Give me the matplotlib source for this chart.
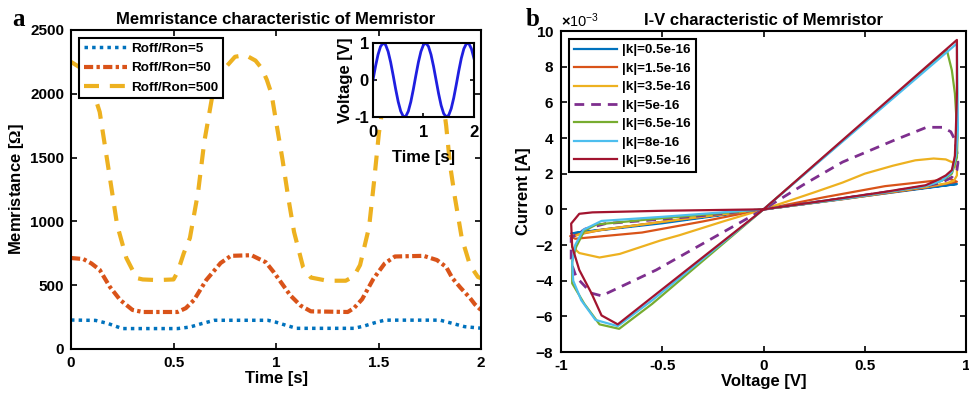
import matplotlib
matplotlib.use('Agg')
from matplotlib import pyplot as plt
from matplotlib.ticker import ScalarFormatter
import numpy as np

plt.rcParams['font.family'] = ['Liberation Sans', 'DejaVu Sans']
plt.rcParams['font.weight'] = 'bold'
plt.rcParams['axes.unicode_minus'] = False
plt.rcParams['mathtext.fontset'] = 'custom'
plt.rcParams['mathtext.rm'] = 'Liberation Sans'
plt.rcParams['mathtext.sf'] = 'Liberation Serif:bold'

# ---- panel a : memristance vs time ----
t_r5 = [0, 0.12, 0.18, 0.25, 0.52, 0.58, 0.64, 0.70, 0.96, 1.0, 1.05, 1.10,
        1.38, 1.43, 1.48, 1.53, 1.80, 1.85, 1.92, 2.0]
m_r5 = [227, 224, 200, 160, 160, 172, 200, 225, 225, 210, 185, 162,
        162, 180, 205, 226, 226, 205, 175, 163]

t_r50 = [0, 0.06, 0.10, 0.14, 0.19, 0.24, 0.30, 0.35, 0.52, 0.56, 0.60, 0.66,
         0.73, 0.78, 0.88, 0.95, 0.99, 1.03, 1.07, 1.12, 1.17, 1.35, 1.38, 1.42,
         1.475, 1.53, 1.58, 1.72, 1.785, 1.83, 1.86, 1.90, 1.946, 1.97, 2.0]
m_r50 = [713, 705, 670, 620, 486, 384, 306, 290, 290, 320, 384, 541,
         674, 730, 735, 680, 600, 510, 420, 340, 295, 290, 320, 390,
         550, 670, 725, 730, 697, 643, 556, 480, 400, 350, 305]

t_r500 = [0, 0.05, 0.10, 0.14, 0.18, 0.225, 0.27, 0.32, 0.35, 0.42, 0.50, 0.52,
          0.55, 0.58, 0.62, 0.65, 0.69, 0.75, 0.80, 0.85, 0.90, 0.93, 0.955,
          0.978, 0.999, 1.032, 1.06, 1.088, 1.132, 1.17, 1.25, 1.34, 1.38,
          1.41, 1.454, 1.478, 1.502, 1.53, 1.58, 1.63, 1.68, 1.73, 1.78, 1.81,
          1.83, 1.849, 1.873, 1.906, 1.946, 1.985, 2.0]
m_r500 = [2250, 2200, 2060, 1857, 1442, 972, 713, 556, 545, 540, 545, 603,
          750, 870, 1230, 1622, 1990, 2200, 2290, 2304, 2260, 2200, 2110,
          2000, 1795, 1481, 1183, 917, 642, 560, 535, 535, 570,
          658, 956, 1309, 1693, 2000, 2200, 2290, 2300, 2260, 2200, 2000,
          1750, 1442, 1183, 870, 658, 564, 555]

# inset : applied voltage
t_v = [0, 0.05, 0.10, 0.15, 0.20, 0.25, 0.30, 0.35, 0.40, 0.45, 0.50, 0.55,
       0.60, 0.65, 0.70, 0.75, 0.80, 0.85, 0.90, 0.95, 1.00, 1.05, 1.10, 1.15,
       1.20, 1.25, 1.30, 1.35, 1.40, 1.45, 1.50, 1.55, 1.60, 1.65, 1.70, 1.75,
       1.80, 1.85, 1.90, 1.95, 2.00]
v_in = [0, 0.368, 0.685, 0.905, 0.998, 0.951, 0.771, 0.482, 0.125, -0.249,
        -0.588, -0.844, -0.982, -0.982, -0.844, -0.588, -0.249, 0.125, 0.482,
        0.771, 0.951, 0.998, 0.905, 0.685, 0.368, 0, -0.368, -0.685, -0.905,
        -0.998, -0.951, -0.771, -0.482, -0.125, 0.249, 0.588, 0.844, 0.982,
        0.982, 0.844, 0.588]

# ---- panel b : I-V loops (current in mA) ----
v_k05 = [0, 0.5, 0.955, 0.5, 0, -0.5, -0.95, -0.5, 0]
i_k05 = [0, 0.74, 1.42, 0.8, 0, -0.72, -1.35, -0.78, 0]

v_k15 = [0, 0.4, 0.8, 0.955, 0.92, 0.6, 0.3, 0, -0.4, -0.8, -0.955, -0.93, -0.6, -0.3, 0]
i_k15 = [0, 0.58, 1.22, 1.55, 1.7, 1.3, 0.68, 0, -0.55, -1.15, -1.5, -1.65, -1.3, -0.68, 0]

v_k35 = [0, 0.4, 0.8, 0.9, 0.94, 0.955, 0.955, 0.94, 0.9, 0.84, 0.75, 0.64, 0.5,
         0.39, 0.25, 0.145, 0, -0.2, -0.415, -0.51, -0.71, -0.81, -0.91, -0.945,
         -0.95, -0.9, -0.8, -0.4, 0]
i_k35 = [0, 0.6, 1.25, 1.45, 1.6, 1.9, 2.3, 2.6, 2.8, 2.85, 2.75, 2.45, 2.0,
         1.5, 0.95, 0.55, 0, -0.68, -1.45, -1.75, -2.5, -2.7, -2.45, -2.1,
         -1.6, -1.35, -1.15, -0.55, 0]

v_k5 = [0, 0.4, 0.8, 0.88, 0.93, 0.955, 0.96, 0.955, 0.945, 0.925, 0.885, 0.805,
        0.64, 0.39, 0.2, 0, -0.53, -0.8, -0.85, -0.925, -0.95, -0.95, -0.88,
        -0.78, -0.5, -0.3, 0]
i_k5 = [0, 0.62, 1.3, 1.5, 1.8, 2.2, 2.6, 3.2, 3.9, 4.35, 4.6, 4.6,
        3.85, 2.65, 1.4, 0, -3.4, -4.85, -4.7, -3.8, -3.0, -1.6, -1.1,
        -0.8, -0.55, -0.35, 0]

v_k65 = [0, 0.4, 0.8, 0.88, 0.93, 0.955, 0.958, 0.945, 0.93, 0.905, 0.6, 0.3, 0,
         -0.55, -0.713, -0.81, -0.885, -0.945, -0.945, -0.925, -0.885, -0.825,
         -0.6, -0.3, 0]
i_k65 = [0, 0.6, 1.3, 1.6, 2.0, 2.9, 4.1, 6.5, 7.8, 8.95, 5.9, 2.95, 0,
         -5.3, -6.7, -6.45, -5.3, -4.15, -2.9, -2.1, -1.2, -0.85,
         -0.6, -0.3, 0]

v_k8 = [0, 0.4, 0.8, 0.88, 0.93, 0.95, 0.96, 0.958, 0.955, 0, -0.55, -0.72, -0.83,
        -0.9, -0.94, -0.945, -0.93, -0.89, -0.8, -0.5, 0]
i_k8 = [0, 0.6, 1.3, 1.6, 2.1, 3.0, 4.5, 6.5, 9.3, 0, -5.1, -6.55, -6.2,
        -5.1, -4.0, -3.0, -2.0, -1.15, -0.65, -0.42, 0]

v_k95 = [0, 0.3, 0.6, 0.8, 0.85, 0.9, 0.93, 0.945, 0.95, 0.955, 0.955, 0,
         -0.72, -0.8, -0.85, -0.91, -0.945, -0.95, -0.91, -0.845, -0.5, 0]
i_k95 = [0, 0.48, 0.98, 1.35, 1.6, 1.9, 2.2, 3.0, 4.5, 6.5, 9.5, 0,
         -6.45, -5.95, -4.7, -3.4, -2.1, -0.8, -0.25, -0.17, -0.08, 0]

k_labels = ['|k|=0.5e-16', '|k|=1.5e-16', '|k|=3.5e-16', '|k|=5e-16',
            '|k|=6.5e-16', '|k|=8e-16', '|k|=9.5e-16']
k_colors = ['#0072BD', '#D95319', '#EDB120', '#7E2F8E', '#77AC30', '#4DBEEE', '#A2142F']


def style_axes(ax, lw=1.5, size=11):
    for s in ax.spines.values():
        s.set_linewidth(lw)
    ax.tick_params(direction='in', top=True, right=True, length=4, width=1.2,
                   labelsize=size, pad=5)
    for lab in ax.get_xticklabels() + ax.get_yticklabels():
        lab.set_fontweight('bold')


fig = plt.figure(figsize=(9.7, 3.96), dpi=100)

ax1 = fig.add_axes([0.0732, 0.1187, 0.4227, 0.8056])
ax1.plot(t_r5, m_r5, color='#0072BD', lw=2.5, dashes=(1, 1.2), label='Roff/Ron=5')
ax1.plot(t_r50, m_r50, color='#D95319', lw=3, dashes=(2.2, 0.8, 0.8, 0.8), label='Roff/Ron=50')
ax1.plot(t_r500, m_r500, color='#EDB120', lw=3, dashes=(3.6, 2.6), label='Roff/Ron=500')
ax1.set_xlim(0, 2)
ax1.set_ylim(0, 2500)
ax1.set_xticks([0, 0.5, 1, 1.5, 2])
ax1.set_xticklabels(['0', '0.5', '1', '1.5', '2'])
ax1.set_yticks([0, 500, 1000, 1500, 2000, 2500])
ax1.set_xlabel('Time [s]', fontsize=12, fontweight='bold', labelpad=1)
ax1.set_ylabel(r'Memristance [$\mathsf{\Omega}$]', fontsize=12, fontweight='bold', labelpad=3)
ax1.set_title('Memristance characteristic of Memristor', fontsize=12, fontweight='bold', pad=4)
style_axes(ax1)
leg1 = ax1.legend(loc='upper left', fontsize=9.7, handlelength=3.2, fancybox=False,
                  framealpha=1, edgecolor='black', borderaxespad=0.6, labelspacing=0.5,
                  handletextpad=0.3, borderpad=0.35)
leg1.get_frame().set_linewidth(1.5)
for txt in leg1.get_texts():
    txt.set_fontweight('bold')

ins = fig.add_axes([0.3845, 0.7045, 0.1041, 0.1869])
ins.plot(t_v, v_in, color='#1F1FE0', lw=2)
ins.set_xlim(0, 2)
ins.set_ylim(-1, 1)
ins.set_xticks([0, 1, 2])
ins.set_yticks([-1, 0, 1])
ins.set_xlabel('Time [s]', fontsize=12, fontweight='bold', labelpad=7)
ins.set_ylabel('Voltage [V]', fontsize=12, fontweight='bold', labelpad=1)
style_axes(ins, size=12)
ins.tick_params(length=3, pad=3)
ins.tick_params(axis='x', pad=6)

ax2 = fig.add_axes([0.5784, 0.1111, 0.4175, 0.8106])
curves = [(v_k05, i_k05), (v_k15, i_k15), (v_k35, i_k35), (v_k5, i_k5),
          (v_k65, i_k65), (v_k8, i_k8), (v_k95, i_k95)]
for n, (vv, ii) in enumerate(curves):
    cur = np.array(ii) * 1e-3
    if n == 3:
        ax2.plot(vv, cur, color=k_colors[n], lw=2, dashes=(3.5, 2.5), label=k_labels[n])
    else:
        ax2.plot(vv, cur, color=k_colors[n], lw=1.6, label=k_labels[n])
ax2.set_xlim(-1, 1)
ax2.set_ylim(-8e-3, 10e-3)
ax2.set_xticks([-1, -0.5, 0, 0.5, 1])
ax2.set_xticklabels(['-1', '-0.5', '0', '0.5', '1'])
ax2.set_yticks(np.arange(-8, 11, 2) * 1e-3)
fmt = ScalarFormatter(useMathText=True)
fmt.set_powerlimits((-3, -3))
ax2.yaxis.set_major_formatter(fmt)
ax2.yaxis.get_offset_text().set_fontsize(10.5)
ax2.yaxis.get_offset_text().set_fontweight('normal')
ax2.set_xlabel('Voltage [V]', fontsize=12, fontweight='bold', labelpad=1)
ax2.set_ylabel('Current [A]', fontsize=12, fontweight='bold', labelpad=3)
ax2.set_title('I-V characteristic of Memristor', fontsize=12, fontweight='bold', pad=4)
style_axes(ax2)
leg2 = ax2.legend(loc='upper left', fontsize=9.7, handlelength=3.2, fancybox=False,
                  framealpha=1, edgecolor='black', borderaxespad=0.6, labelspacing=0.45,
                  handletextpad=0.4, borderpad=0.35)
leg2.get_frame().set_linewidth(1.5)
for txt in leg2.get_texts():
    txt.set_fontweight('bold')

fig.text(0.019, 0.935, 'a', family='Liberation Serif', fontsize=18, fontweight='bold',
         ha='center', va='baseline')
fig.text(0.549, 0.935, 'b', family='Liberation Serif', fontsize=18, fontweight='bold',
         ha='center', va='baseline')

fig.savefig('out.png', dpi=100, facecolor='white')
